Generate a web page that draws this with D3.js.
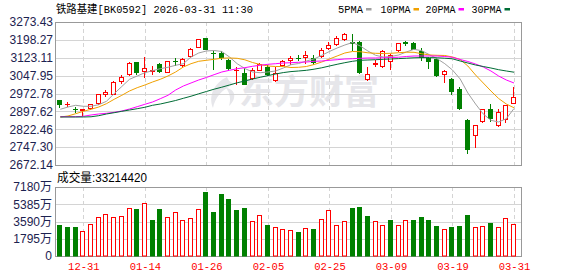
<!DOCTYPE html>
<html><head><meta charset="utf-8">
<script src="https://cdn.jsdelivr.net/npm/d3@7"></script>
<style>html,body{margin:0;padding:0;background:#fff;}svg{display:block;}</style>
</head><body>
<svg id="c" width="578" height="276"></svg>
<script>
const dates = ["2025-12-26","2025-12-29","2025-12-30","2025-12-31","2026-01-05","2026-01-06","2026-01-07","2026-01-08","2026-01-09","2026-01-12",
"2026-01-13","2026-01-14","2026-01-15","2026-01-16","2026-01-19","2026-01-20","2026-01-21","2026-01-22","2026-01-23","2026-01-26",
"2026-01-27","2026-01-28","2026-01-29","2026-01-30","2026-02-02","2026-02-03","2026-02-04","2026-02-05","2026-02-06","2026-02-09",
"2026-02-10","2026-02-11","2026-02-12","2026-02-13","2026-02-24","2026-02-25","2026-02-26","2026-02-27","2026-03-02","2026-03-03",
"2026-03-04","2026-03-05","2026-03-06","2026-03-09","2026-03-10","2026-03-11","2026-03-12","2026-03-13","2026-03-16","2026-03-17",
"2026-03-18","2026-03-19","2026-03-20","2026-03-23","2026-03-24","2026-03-25","2026-03-26","2026-03-27","2026-03-30","2026-03-31"];
const open = [2945.5,2927.8,2908.9,2905.1,2911.8,2931.6,2970.7,2972.0,3026.6,3053.5,
3105.2,3067.4,3067.4,3095.6,3063.2,3109.9,3093.9,3129.2,3169.6,3206.2,
3144.4,3144.4,3112.4,3070.3,3060.3,3039.2,3072.9,3084.2,3030.8,3091.4,
3113.7,3123.3,3125.0,3122.1,3130.5,3165.4,3180.9,3200.7,3189.3,3189.3,
3032.5,3096.8,3088.4,3108.2,3154.4,3188.1,3185.1,3151.5,3122.1,3119.1,
3054.8,3035.0,2993.0,2862.6,2797.0,2855.9,2906.4,2839.1,2866.8,2932.9];
const high = [2946.7,2937.1,2914.8,2909.7,2928.6,2970.7,2988.8,3025.4,3049.3,3105.2,
3106.5,3126.3,3087.2,3102.3,3109.4,3123.3,3122.1,3164.1,3202.0,3207.4,
3150.2,3150.2,3119.1,3084.2,3081.3,3080.0,3101.0,3091.4,3084.2,3113.7,
3128.4,3133.4,3150.2,3133.4,3164.1,3189.3,3213.3,3228.4,3224.2,3193.5,
3084.2,3112.4,3154.4,3140.1,3187.2,3193.5,3189.3,3166.2,3126.3,3122.1,
3070.3,3038.0,3000.1,2866.8,2840.3,2908.9,2929.9,2906.4,2925.7,2998.9];
const low = [2914.8,2919.0,2895.0,2883.6,2907.6,2928.6,2962.3,2970.7,3018.2,3049.3,
3053.5,3042.2,3056.1,3063.2,3061.1,3091.4,3084.2,3126.3,3168.3,3158.6,
3077.1,3116.6,3070.3,3014.0,3012.7,3033.8,3071.6,3049.3,3024.1,3088.4,
3098.1,3112.4,3101.0,3098.1,3126.3,3161.2,3178.0,3196.5,3154.4,3059.0,
3031.2,3087.2,3084.2,3077.1,3153.2,3175.5,3159.9,3113.7,3081.3,3048.1,
3021.2,2972.0,2906.4,2722.6,2747.8,2854.6,2855.9,2837.8,2853.0,2931.6];
const close = [2929.9,2929.1,2906.4,2906.8,2927.4,2969.4,2980.4,3021.2,3042.2,3101.0,
3063.2,3078.8,3070.3,3068.7,3108.2,3108.6,3116.6,3161.2,3200.7,3161.2,
3141.8,3126.3,3080.0,3072.4,3014.0,3072.9,3098.1,3053.5,3060.3,3109.4,
3122.1,3120.8,3133.4,3105.2,3157.0,3178.0,3206.2,3224.2,3185.1,3063.2,
3056.1,3099.8,3150.2,3133.4,3185.1,3186.0,3161.2,3124.2,3109.4,3049.3,
3066.1,2983.3,2911.8,2740.7,2839.1,2906.4,2869.8,2895.0,2923.2,2956.8];
// volume in 万
const volume = [3226,3018,3018,2602,3330,4059,4336,4059,4128,4961,
4891,5481,3781,4891,4059,4544,3747,3920,4891,6695,
4614,6452,5932,4822,4995,3642,4232,3226,3018,2845,
2690,2498,2879,2810,3816,4753,3191,3608,4995,5099,
4163,3608,3191,3747,3191,3712,3747,4059,3747,3122,
2775,3018,3122,4267,3018,3087,3434,3018,3920,3321.442];
const ma5 = [2906.4,2916.0,2923.2,2919.0,2919.0,2925.7,2940.0,2972.0,3002.2,3032.5,
3046.4,3060.2,3068.7,3077.1,3083.0,3091.4,3098.1,3126.3,3143.1,3151.5,
3153.6,3149.4,3126.3,3098.1,3077.9,3063.2,3060.2,3063.2,3067.4,3080.0,
3093.9,3098.9,3109.4,3117.9,3133.4,3149.4,3164.1,3176.7,3187.2,3172.5,
3151.5,3133.4,3126.3,3128.4,3134.7,3147.3,3158.6,3152.8,3135.9,3119.1,
3098.1,3071.6,3033.8,2974.9,2928.6,2886.6,2860.1,2853.0,2866.8,2909.7];
const ma10 = [2874.0,2878.2,2887.9,2897.9,2906.4,2916.0,2929.9,2948.4,2965.2,2983.3,
2997.2,3008.5,3021.2,3032.5,3046.4,3063.2,3084.2,3098.1,3108.2,3112.4,
3116.6,3121.2,3122.1,3120.8,3114.5,3103.1,3094.7,3088.4,3086.3,3086.3,
3082.1,3083.0,3086.3,3094.7,3105.2,3117.9,3130.5,3143.1,3149.4,3148.6,
3143.9,3141.8,3141.0,3141.8,3144.3,3146.4,3146.0,3140.1,3134.7,3133.4,
3132.6,3126.3,3115.8,3088.4,3050.6,3017.0,2983.3,2951.8,2928.6,2912.7];
const ma20 = [2875.2,2875.2,2875.2,2876.9,2882.4,2886.6,2889.5,2893.7,2899.2,2907.6,
2917.3,2927.4,2937.1,2950.9,2965.2,2987.5,3004.3,3017.0,3029.6,3040.1,
3051.9,3063.2,3070.3,3077.1,3081.3,3087.2,3091.4,3095.6,3098.1,3101.0,
3102.3,3104.0,3105.2,3108.2,3109.4,3112.4,3114.9,3117.9,3119.1,3120.8,
3122.1,3122.1,3122.9,3124.2,3125.4,3128.4,3130.5,3130.5,3130.5,3130.5,
3128.4,3125.0,3115.8,3107.3,3096.8,3084.2,3067.4,3046.4,3029.6,3017.0];
const ma30 = [2874.0,2874.0,2874.0,2874.0,2874.9,2879.5,2886.6,2892.0,2897.9,2903.4,
2908.9,2914.8,2923.2,2928.6,2935.8,2943.4,2952.6,2961.4,2971.5,2981.2,
2990.9,2999.3,3008.5,3017.8,3025.4,3033.8,3040.9,3048.1,3054.8,3060.7,
3064.9,3067.4,3070.3,3075.0,3080.9,3088.4,3095.6,3102.3,3108.2,3112.4,
3113.7,3114.9,3116.6,3117.9,3119.5,3121.2,3122.9,3123.7,3123.7,3122.9,
3121.2,3118.7,3109.4,3101.0,3092.6,3086.3,3080.0,3072.9,3067.4,3062.4];
const priceTicks = [3273.43,3198.27,3123.11,3047.95,2972.78,2897.62,2822.46,2747.30,2672.14];
const volTicks = [7180,5385,3590,1795,0];
const labelDates = ["2025-12-31","2026-01-14","2026-01-26","2026-02-05","2026-02-25","2026-03-09","2026-03-19","2026-03-31"];
const maNames = ["5PMA","10PMA","20PMA","30PMA"];
const maColors = ["#a0a0a0","#f0a000","#ff00ff","#006c35"];
const title = "铁路基建[BK0592] 2026-03-31 11:30";
const volTitle = "成交量:33214420";
const watermark = "东方财富";

const RED = "#ff0000", GREEN = "#008000", GRID = "#d4d4d4", BORDER = "#999999", LABEL = "#1c2250";
const L = 55.5, R = 521.5, T = 22, B = 165, VT = 187, VB = 256;

const svg = d3.select("#c");
const x = d3.scalePoint().domain(dates).range([60.3, 514]);
const y = d3.scaleLinear().domain([2672.14, 3273.43]).range([B, T]);
const yv = d3.scaleLinear().domain([0, 7180]).range([VB, VT]);
const cx = d => Math.round(x(d));
const py = v => Math.round(v) + 0.5;

// title & legend
svg.append("text").attr("x", 56).attr("y", 12.5).attr("font-family", "'Liberation Mono','Noto Sans CJK SC',monospace")
  .attr("font-size", 11).attr("fill", "#000").attr("textLength", 197).attr("lengthAdjust", "spacingAndGlyphs").text(title);
const legX = [338, 380.5, 425.5, 471.5], legW = [25, 30, 30, 30];
maNames.forEach((n, k) => {
  svg.append("text").attr("x", legX[k]).attr("y", 12.5).attr("font-family", "'Liberation Mono',monospace")
    .attr("font-size", 11).attr("fill", "#000").attr("textLength", legW[k]).attr("lengthAdjust", "spacingAndGlyphs").text(n);
  svg.append("rect").attr("x", legX[k] + legW[k] + 3).attr("y", 8).attr("width", 5.5).attr("height", 2.5).attr("fill", maColors[k]);
});

// watermark
const wm = svg.append("g").attr("fill", "#e6e6ea");
wm.append("path").attr("d", "M227 77 C214 83 208 96 213 108 C215 98 221 90 234 84 C230 82 228 80 227 77 Z");
wm.append("path").attr("d", "M226 88 C236 89 237 99 229 106 C231 99 230 93 226 88 Z");
wm.append("text").attr("x", 239).attr("y", 104).attr("font-family", "'Noto Sans CJK SC',sans-serif").attr("font-weight", 700)
  .attr("font-size", 34).attr("textLength", 140).attr("lengthAdjust", "spacingAndGlyphs").text(watermark);

// grids
const g = svg.append("g");
priceTicks.slice(1, -1).forEach(v => g.append("line").attr("x1", L).attr("x2", R).attr("y1", py(y(v))).attr("y2", py(y(v))).attr("stroke", GRID));
volTicks.slice(1, -1).forEach(v => g.append("line").attr("x1", L).attr("x2", R).attr("y1", py(yv(v))).attr("y2", py(yv(v))).attr("stroke", GRID));
labelDates.forEach(d => {
  const xx = cx(d) + 0.5;
  g.append("line").attr("x1", xx).attr("x2", xx).attr("y1", T).attr("y2", B).attr("stroke", GRID).attr("stroke-dasharray", "4,3");
  g.append("line").attr("x1", xx).attr("x2", xx).attr("y1", VT).attr("y2", VB).attr("stroke", GRID).attr("stroke-dasharray", "4,3");
});

// borders
[[T, B], [VT, VB]].forEach(([a, b]) => {
  svg.append("rect").attr("x", L).attr("y", a + 0.5).attr("width", R - L).attr("height", b - a).attr("fill", "none").attr("stroke", BORDER);
});

// candles
const cg = svg.append("g");
dates.forEach((d, i) => {
  const c = cx(d);
  const up = close[i] >= open[i];
  const col = up ? RED : GREEN;
  const yo = y(open[i]), yc = y(close[i]);
  const top = Math.round(Math.min(yo, yc)), bot = Math.round(Math.max(yo, yc));
  cg.append("line").attr("x1", c - 0.5).attr("x2", c - 0.5).attr("y1", Math.round(y(high[i]))).attr("y2", Math.round(y(low[i])) + 1).attr("stroke", col);
  if (bot - top < 1) {
    cg.append("line").attr("x1", c - 3).attr("x2", c + 2).attr("y1", top + 0.5).attr("y2", top + 0.5).attr("stroke", col);
  } else if (up) {
    cg.append("rect").attr("x", c - 2.5).attr("y", top + 0.5).attr("width", 4).attr("height", bot - top).attr("fill", "#fff").attr("stroke", col);
  } else {
    cg.append("rect").attr("x", c - 3).attr("y", top).attr("width", 5).attr("height", bot - top + 1).attr("fill", col);
  }
});

// MA lines
[ma5, ma10, ma20, ma30].forEach((arr, k) => {
  svg.append("path").datum(arr).attr("fill", "none").attr("stroke", maColors[k]).attr("stroke-width", 1)
    .attr("d", d3.line().x((v, i) => x(dates[i])).y(v => y(v)));
});

// volume bars
const vg = svg.append("g");
dates.forEach((d, i) => {
  const c = cx(d);
  const prev = i > 0 ? close[i - 1] : open[i];
  const up = close[i] >= prev;
  const top = Math.round(yv(volume[i]));
  if (up) vg.append("rect").attr("x", c - 2.5).attr("y", top + 0.5).attr("width", 4).attr("height", VB - top - 0.5).attr("fill", "#fff").attr("stroke", RED);
  else vg.append("rect").attr("x", c - 3).attr("y", top).attr("width", 5).attr("height", VB + 0.5 - top).attr("fill", GREEN);
});

// axes
const ya = svg.append("g").attr("transform", `translate(${L},0)`)
  .call(d3.axisLeft(y).tickValues(priceTicks).tickSize(0).tickPadding(2.5).tickFormat(d3.format(".2f")));
ya.select(".domain").remove();
ya.selectAll("text").attr("font-family", "'Liberation Sans',Arial,sans-serif").attr("font-size", 12).attr("fill", LABEL);
const va = svg.append("g").attr("transform", `translate(${L - 1},0)`)
  .call(d3.axisLeft(yv).tickValues(volTicks).tickSize(0).tickPadding(2.5).tickFormat(v => v === 0 ? "0" : v + "万"));
va.select(".domain").remove();
va.selectAll("text").attr("font-family", "'Liberation Sans','Noto Sans CJK SC',sans-serif").attr("font-size", 12).attr("fill", LABEL);
const xa = svg.append("g").attr("transform", `translate(0,${VB})`)
  .call(d3.axisBottom(x).tickValues(labelDates).tickSize(0).tickPadding(7).tickFormat(d => d.slice(5)));
xa.select(".domain").remove();
xa.selectAll("text").attr("font-family", "'Liberation Mono',monospace").attr("font-size", 10.5).attr("fill", RED);

svg.append("text").attr("x", 57).attr("y", 181.5).attr("font-family", "'Liberation Sans','Noto Sans CJK SC',sans-serif")
  .attr("font-size", 12).attr("fill", "#000").attr("textLength", 90).attr("lengthAdjust", "spacingAndGlyphs").text(volTitle);
</script>
</body></html>
